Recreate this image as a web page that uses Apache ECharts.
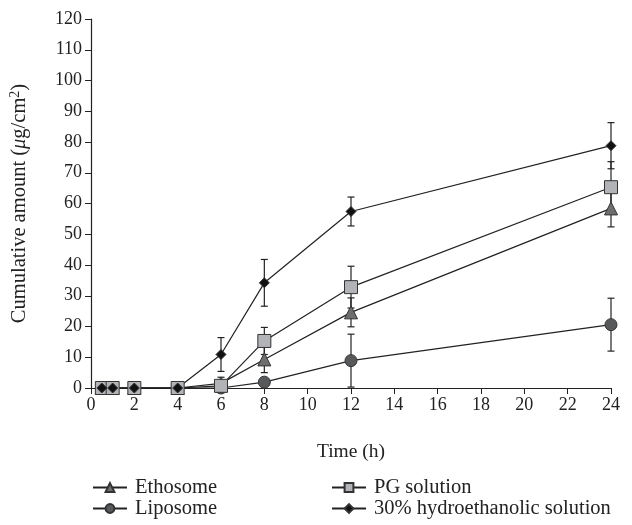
<!DOCTYPE html>
<html>
<head>
<meta charset="utf-8">
<script src="https://cdn.jsdelivr.net/npm/echarts@6/dist/echarts.min.js"></script>
<style>
  html, body { margin: 0; padding: 0; background: #fff; }
</style>
</head>
<body>
<div id="release-chart-container" style="width: 632px; height: 525px"></div>
<script>
// sampling times (h)
const times = [0.5, 1, 2, 4, 6, 8, 12, 24];

// cumulative amount (ug/cm2), means and SD
const ethosome = [0, 0, 0, 0, 1.5, 9.3, 24.6, 58.4];
const ethosomeSd = [0, 0, 0, 0.8, 2, 4.3, 4.7, 6];
const liposome = [0, 0, 0, 0, 0, 1.9, 8.9, 20.6];
const liposomeSd = [0, 0, 0, 0, 0, 1, 8.6, 8.6];
const pgSolution = [0, 0, 0, 0, 0.7, 15.3, 32.8, 65.3];
const pgSolutionSd = [0, 0, 0, 0, 0.5, 4.4, 6.8, 8.3];
const hydroethanolic = [0, 0, 0, 0, 10.9, 34.2, 57.4, 78.8];
const hydroethanolicSd = [0, 0, 0, 1.5, 5.5, 7.6, 4.7, 7.5];

const FONT = "Liberation Serif";
const ink = "#222";

function pairs(values) {
  return times.map((t, i) => [t, values[i]]);
}
function errData(values, sd) {
  return times.map((t, i) => [t, Math.max(0, values[i] - sd[i]), values[i] + sd[i]]);
}
function renderErr(params, api) {
  const x = api.value(0);
  const lo = api.value(1);
  const hi = api.value(2);
  if (hi - lo <= 0) return;
  const top = api.coord([x, hi]);
  const bot = api.coord([x, lo]);
  const style = { stroke: ink, lineWidth: 1.2 };
  const children = [
    { type: "line", shape: { x1: top[0], y1: top[1], x2: bot[0], y2: bot[1] }, style: style },
    { type: "line", shape: { x1: top[0] - 3.5, y1: top[1], x2: top[0] + 3.5, y2: top[1] }, style: style }
  ];
  if (lo > 0) {
    children.push({ type: "line", shape: { x1: bot[0] - 3.5, y1: bot[1], x2: bot[0] + 3.5, y2: bot[1] }, style: style });
  }
  return { type: "group", children: children };
}
function errSeries(values, sd) {
  return {
    type: "custom",
    renderItem: renderErr,
    data: errData(values, sd),
    z: 1,
    silent: true,
    encode: { x: 0, y: [1, 2] }
  };
}
function lineSeries(name, values, symbol, size, fill) {
  return {
    name: name,
    type: "line",
    data: pairs(values),
    symbol: symbol,
    symbolSize: size,
    showAllSymbol: true,
    z: 3,
    lineStyle: { color: ink, width: 1.2 },
    itemStyle: { color: fill, borderColor: "#333", borderWidth: 1, opacity: 1 }
  };
}

function legendBlock(names, left) {
  return {
    data: names,
    orient: "vertical",
    left: left,
    top: 477,
    padding: 0,
    itemGap: 0,
    itemWidth: 34,
    itemHeight: 11,
    textStyle: { fontFamily: FONT, fontSize: 20.5, color: ink, padding: [0, 0, 0, 3] }
  };
}

const option = {
  animation: false,
  grid: { left: 91, right: 21, top: 19, bottom: 137 },
  legend: [
    legendBlock(["Ethosome", "Liposome"], 92),
    legendBlock(["PG solution", "30% hydroethanolic solution"], 331)
  ],
  xAxis: {
    type: "value",
    min: 0,
    max: 24,
    interval: 2,
    name: "Time (h)",
    nameLocation: "middle",
    nameGap: 54,
    nameTextStyle: { fontFamily: FONT, fontSize: 19.5, color: ink },
    axisLine: { lineStyle: { color: ink, width: 1.2 } },
    axisTick: { inside: false, length: 6, lineStyle: { color: ink } },
    axisLabel: { fontFamily: FONT, fontSize: 18, color: ink, margin: 8 },
    splitLine: { show: false }
  },
  yAxis: {
    type: "value",
    min: 0,
    max: 120,
    interval: 10,
    name: "Cumulative amount ({it|μ}g/cm{sup|2})",
    nameLocation: "middle",
    nameRotate: 90,
    nameGap: 59,
    nameTextStyle: {
      fontFamily: FONT,
      fontSize: 20.5,
      color: ink,
      rich: {
        it: { fontFamily: FONT, fontSize: 20.5, fontStyle: "italic", color: ink },
        sup: { fontFamily: FONT, fontSize: 14, color: ink, verticalAlign: "top", padding: [0, 0, 10, 0] }
      }
    },
    axisLine: { show: true, lineStyle: { color: ink, width: 1.2 } },
    axisTick: { show: true, length: 6, lineStyle: { color: ink } },
    axisLabel: { fontFamily: FONT, fontSize: 18, color: ink, margin: 9 },
    splitLine: { show: false }
  },
  series: [
    errSeries(ethosome, ethosomeSd),
    errSeries(liposome, liposomeSd),
    errSeries(pgSolution, pgSolutionSd),
    errSeries(hydroethanolic, hydroethanolicSd),
    lineSeries("Ethosome", ethosome, "triangle", 13, "#6e6e6e"),
    lineSeries("Liposome", liposome, "circle", 12, "#58595b"),
    lineSeries("PG solution", pgSolution, "rect", 13, "#b1b3b6"),
    lineSeries("30% hydroethanolic solution", hydroethanolic, "diamond", 10, "#111")
  ]
};

const myChart = echarts.init(document.getElementById("release-chart-container"));
myChart.setOption(option);
</script>
</body>
</html>
